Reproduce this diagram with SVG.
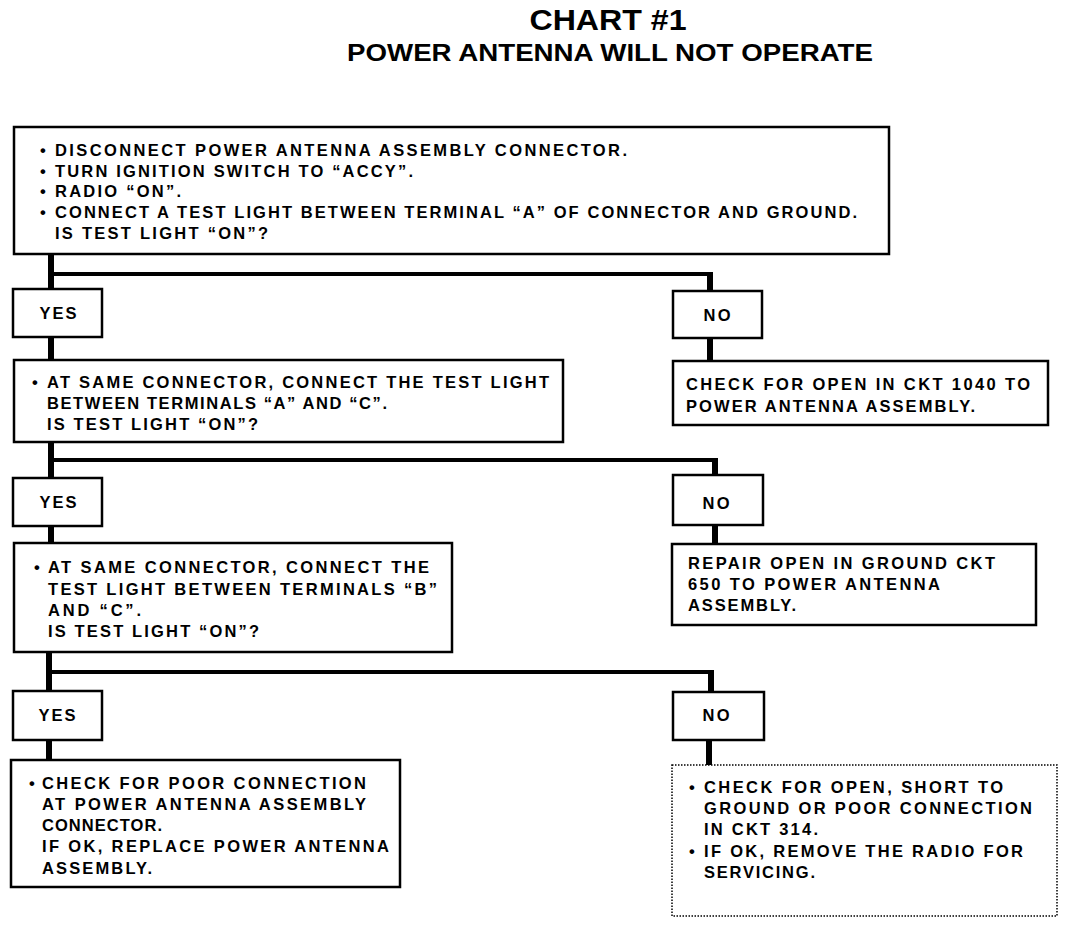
<svg xmlns="http://www.w3.org/2000/svg" width="1072" height="926" viewBox="0 0 1072 926">
<style>
.bx{fill:#fff;stroke:#000;stroke-width:2.5}
.dot{fill:#fff;stroke:#000;stroke-width:1.5;stroke-dasharray:1.5 1.5}
.t{font-family:"Liberation Sans",Arial,sans-serif;font-weight:bold;font-size:16.5px;fill:#000}
.h{font-family:"Liberation Sans",Arial,sans-serif;font-weight:bold;fill:#000;text-anchor:middle}
.c{text-anchor:middle}
.v{stroke:#000;stroke-width:6;fill:none}
.hz{stroke:#000;stroke-width:4;fill:none}
</style>
<rect width="1072" height="926" fill="#fff"/>
<g id="title">
<text class="h" x="608" y="30" font-size="29" textLength="157" lengthAdjust="spacingAndGlyphs">CHART #1</text>
<text class="h" x="610" y="61" font-size="24" textLength="526" lengthAdjust="spacingAndGlyphs">POWER ANTENNA WILL NOT OPERATE</text>
</g>
<g id="connectors">
<path class="v" d="M51 254V289M51 337V360M51 442V478M51 526V543M49 652V691M49 740V760"/>
<path class="hz" d="M49 274H713M49 460H718M47 672H714"/>
<path class="v" d="M710 272V291M710 338V361M715 458V475M715 525V544M711 670V692M709 740V765"/>
</g>
<g id="n1">
<rect class="bx" x="14" y="127" width="875" height="127"/>
<text class="t" x="40" y="156">•</text><text class="t" x="55" y="156" textLength="572" lengthAdjust="spacing">DISCONNECT POWER ANTENNA ASSEMBLY CONNECTOR.</text>
<text class="t" x="40" y="177">•</text><text class="t" x="55" y="177" textLength="358" lengthAdjust="spacing">TURN IGNITION SWITCH TO “ACCY”.</text>
<text class="t" x="40" y="197">•</text><text class="t" x="55" y="197" textLength="126" lengthAdjust="spacing">RADIO “ON”.</text>
<text class="t" x="40" y="218">•</text><text class="t" x="55" y="218" textLength="802" lengthAdjust="spacing">CONNECT A TEST LIGHT BETWEEN TERMINAL “A” OF CONNECTOR AND GROUND.</text>
<text class="t" x="55" y="239" textLength="213" lengthAdjust="spacing">IS TEST LIGHT “ON”?</text>
</g>
<g id="yes1">
<rect class="bx" x="13" y="289" width="89" height="48"/>
<text class="t c" x="58" y="319" textLength="37" lengthAdjust="spacing">YES</text>
</g>
<g id="no1">
<rect class="bx" x="673" y="291" width="89" height="47"/>
<text class="t c" x="717" y="321" textLength="27" lengthAdjust="spacing">NO</text>
</g>
<g id="n2">
<rect class="bx" x="673" y="361" width="375" height="64"/>
<text class="t" x="686" y="390" textLength="344" lengthAdjust="spacing">CHECK FOR OPEN IN CKT 1040 TO</text>
<text class="t" x="686" y="412" textLength="289" lengthAdjust="spacing">POWER ANTENNA ASSEMBLY.</text>
</g>
<g id="n3">
<rect class="bx" x="14" y="360" width="549" height="82"/>
<text class="t" x="32" y="388">•</text><text class="t" x="47" y="388" textLength="502" lengthAdjust="spacing">AT SAME CONNECTOR, CONNECT THE TEST LIGHT</text>
<text class="t" x="47" y="409" textLength="340" lengthAdjust="spacing">BETWEEN TERMINALS “A” AND “C”.</text>
<text class="t" x="47" y="430" textLength="211" lengthAdjust="spacing">IS TEST LIGHT “ON”?</text>
</g>
<g id="yes2">
<rect class="bx" x="13" y="478" width="89" height="48"/>
<text class="t c" x="58" y="508" textLength="37" lengthAdjust="spacing">YES</text>
</g>
<g id="no2">
<rect class="bx" x="673" y="475" width="90" height="50"/>
<text class="t c" x="716" y="509" textLength="27" lengthAdjust="spacing">NO</text>
</g>
<g id="n4">
<rect class="bx" x="672" y="544" width="364" height="81"/>
<text class="t" x="688" y="569" textLength="307" lengthAdjust="spacing">REPAIR OPEN IN GROUND CKT</text>
<text class="t" x="688" y="590" textLength="252" lengthAdjust="spacing">650 TO POWER ANTENNA</text>
<text class="t" x="688" y="611" textLength="108" lengthAdjust="spacing">ASSEMBLY.</text>
</g>
<g id="n5">
<rect class="bx" x="14" y="543" width="438" height="109"/>
<text class="t" x="34" y="573">•</text><text class="t" x="48" y="573" textLength="381" lengthAdjust="spacing">AT SAME CONNECTOR, CONNECT THE</text>
<text class="t" x="48" y="595" textLength="389" lengthAdjust="spacing">TEST LIGHT BETWEEN TERMINALS “B”</text>
<text class="t" x="48" y="616" textLength="93" lengthAdjust="spacing">AND “C”.</text>
<text class="t" x="48" y="637" textLength="211" lengthAdjust="spacing">IS TEST LIGHT “ON”?</text>
</g>
<g id="yes3">
<rect class="bx" x="13" y="691" width="89" height="49"/>
<text class="t c" x="57" y="721" textLength="37" lengthAdjust="spacing">YES</text>
</g>
<g id="no3">
<rect class="bx" x="673" y="692" width="91" height="48"/>
<text class="t c" x="716" y="721" textLength="27" lengthAdjust="spacing">NO</text>
</g>
<g id="n6">
<rect class="bx" x="11" y="760" width="389" height="127"/>
<text class="t" x="29" y="789">•</text><text class="t" x="42" y="789" textLength="324" lengthAdjust="spacing">CHECK FOR POOR CONNECTION</text>
<text class="t" x="42" y="810" textLength="324" lengthAdjust="spacing">AT POWER ANTENNA ASSEMBLY</text>
<text class="t" x="42" y="831" textLength="120" lengthAdjust="spacing">CONNECTOR.</text>
<text class="t" x="42" y="852" textLength="347" lengthAdjust="spacing">IF OK, REPLACE POWER ANTENNA</text>
<text class="t" x="42" y="874" textLength="110" lengthAdjust="spacing">ASSEMBLY.</text>
</g>
<g id="n7">
<rect class="dot" x="672" y="765" width="385" height="151"/>
<text class="t" x="689" y="793">•</text><text class="t" x="704" y="793" textLength="299" lengthAdjust="spacing">CHECK FOR OPEN, SHORT TO</text>
<text class="t" x="704" y="814" textLength="328" lengthAdjust="spacing">GROUND OR POOR CONNECTION</text>
<text class="t" x="704" y="835" textLength="114" lengthAdjust="spacing">IN CKT 314.</text>
<text class="t" x="689" y="857">•</text><text class="t" x="704" y="857" textLength="319" lengthAdjust="spacing">IF OK, REMOVE THE RADIO FOR</text>
<text class="t" x="704" y="878" textLength="111" lengthAdjust="spacing">SERVICING.</text>
</g>
</svg>
